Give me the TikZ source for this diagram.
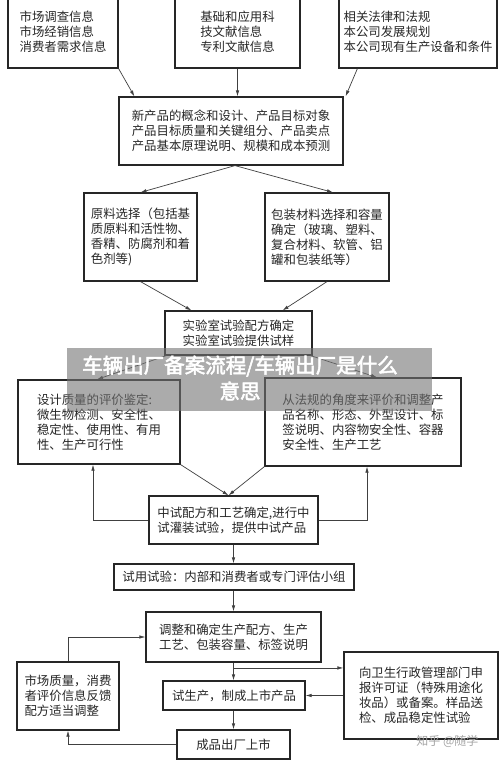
\documentclass[tikz,border=0pt]{standalone}
\usepackage{fontspec}
\setmainfont{Noto Sans CJK SC}
\newfontfamily\bannerfont[FakeBold=2.5]{Noto Sans CJK SC}
\usetikzlibrary{positioning, calc, arrows.meta}

\begin{document}
\begin{tikzpicture}[x=1pt, y=-1pt,
    box/.style={draw=black!85, line width=1.2pt, align=left, inner sep=0pt, text=black!85, font=\fontsize{12.4}{15}\selectfont},
    arr/.style={draw=black!75, line width=0.7pt, -{Latex[length=6pt,width=3.5pt]}}]
  \useasboundingbox[fill=white] (0,0) rectangle (500,760);

  % information sources
  \node[box, minimum width=110pt, minimum height=72pt] (market) at (63,32) {市场调查信息\\市场经销信息\\消费者需求信息};
  \node[box, minimum width=125pt, minimum height=72pt] (science) at (237.5,32) {基础和应用科\\技文献信息\\专利文献信息};
  \node[box, minimum width=158pt, minimum height=72pt] (law) at (418,32) {相关法律和法规\\本公司发展规划\\本公司现有生产设备和条件};

  \node[box, minimum width=224pt, minimum height=68pt] (concept) at (231,131) {新产品的概念和设计、产品目标对象\\产品目标质量和关键组分、产品卖点\\产品基本原理说明、规模和成本预测};

  \draw[arr] (market.south east) -- ([xshift=16pt]concept.north west);
  \draw[arr] (science.south) -- (science.south |- concept.north);
  \draw[arr] ([xshift=19pt]law.south west) -- ([xshift=2pt]concept.north east);

  % materials
  \node[box, minimum width=113pt, minimum height=88pt] (raw) at (140.5,237) {原料选择（包括基\\质原料和活性物、\\香精、防腐剂和着\\色剂等)};
  \node[box, minimum width=124pt, minimum height=88pt] (pack) at (327,237) {包装材料选择和容量\\确定（玻璃、塑料、\\复合材料、软管、铝\\罐和包装纸等）};

  \draw[arr] ([xshift=4pt]concept.south) -- (raw.north);
  \draw[arr] ([xshift=4pt]concept.south) -- ([xshift=6pt]pack.north);

  \node[box, align=center, minimum width=147pt, minimum height=44pt] (lab) at (238.5,333) {实验室试验配方确定\\实验室试验提供试样};

  \draw[arr] (raw.south) -- ([xshift=27pt]lab.north west);
  \draw[arr] (pack.south) -- ([xshift=-30pt]lab.north east);

  % evaluation
  \node[box, minimum width=162pt, minimum height=84pt] (quality) at (99,422) {设计质量的评价鉴定:\\微生物检测、安全性、\\稳定性、使用性、有用\\性、生产可行性};
  \node[box, minimum width=196pt, minimum height=88pt] (rules) at (363,422) {从法规的角度来评价和调整产\\品名称、形态、外型设计、标\\签说明、内容物安全性、容器\\安全性、生产工艺};

  \draw[arr] ([xshift=2pt]lab.south west) -- ([xshift=-2pt]quality.north);
  \draw[arr] ([xshift=-2pt]lab.south east) -- ([xshift=14pt]rules.north);

  \node[box, minimum width=169pt, minimum height=48pt] (pilot) at (233.5,520) {中试配方和工艺确定,进行中\\试灌装试验，提供中试产品};

  \draw[arr] (quality.south east) -- ([xshift=-5pt]pilot.north);
  \draw[arr] (rules.south west) -- ([xshift=-5pt]pilot.north);
  \draw[arr] (pilot.west) -| ([xshift=-6pt]quality.south);
  \draw[arr] (pilot.east) -| ([xshift=4pt]rules.south);

  % trial and production
  \node[box, minimum width=240pt, minimum height=26pt] (usetest) at (234,577) {试用试验：内部和消费者或专门评估小组};
  \node[box, minimum width=175pt, minimum height=50pt] (adjust) at (233.5,637) {调整和确定生产配方、生产\\工艺、包装容量、标签说明};
  \node[box, minimum width=142pt, minimum height=29pt] (trial) at (234,695.5) {试生产，制成上市产品};
  \node[box, minimum width=113pt, minimum height=29pt] (final) at (233.5,744.5) {成品出厂上市};
  \node[box, minimum width=102pt, minimum height=68pt] (feedback) at (68,696) {市场质量，消费\\者评价信息反馈\\配方适当调整};
  \node[box, minimum width=154pt, minimum height=87pt] (permit) at (421,695.5) {向卫生行政管理部门申\\报许可证（特殊用途化\\妆品）或备案。样品送\\检、成品稳定性试验};

  \draw[arr] (pilot.south) -- (pilot.south |- usetest.north);
  \draw[arr] (usetest.south -| adjust.south) -- (adjust.north);
  \draw[arr] (adjust.south) -- (adjust.south |- trial.north);
  \coordinate (branch) at ($(adjust.south)!0.3!(adjust.south |- trial.north)$);
  \draw[arr] (branch) -- (branch -| permit.west);
  \draw[arr] (permit.west |- trial.east) -- (trial.east);
  \draw[arr] (trial.south -| final.north) -- (final.north);
  \draw[arr] (final.west) -| (feedback.south);
  \draw[arr] (feedback.north) |- (adjust.west);

  % overlay
  \node[fill=black!55, fill opacity=0.6, minimum width=365pt, minimum height=63pt, inner sep=0pt] (banner) at (249.5,379.5) {};
  \node[text=white, align=center, font=\bannerfont\fontsize{20.5}{26}\selectfont] (title) at (240,378) {车辆出厂备案流程/车辆出厂是什么\\意思};
  \node[text=black!35, font=\fontsize{12}{14}\selectfont, anchor=east] (mark) at (482,741) {知乎 @随学};
\end{tikzpicture}
\end{document}
